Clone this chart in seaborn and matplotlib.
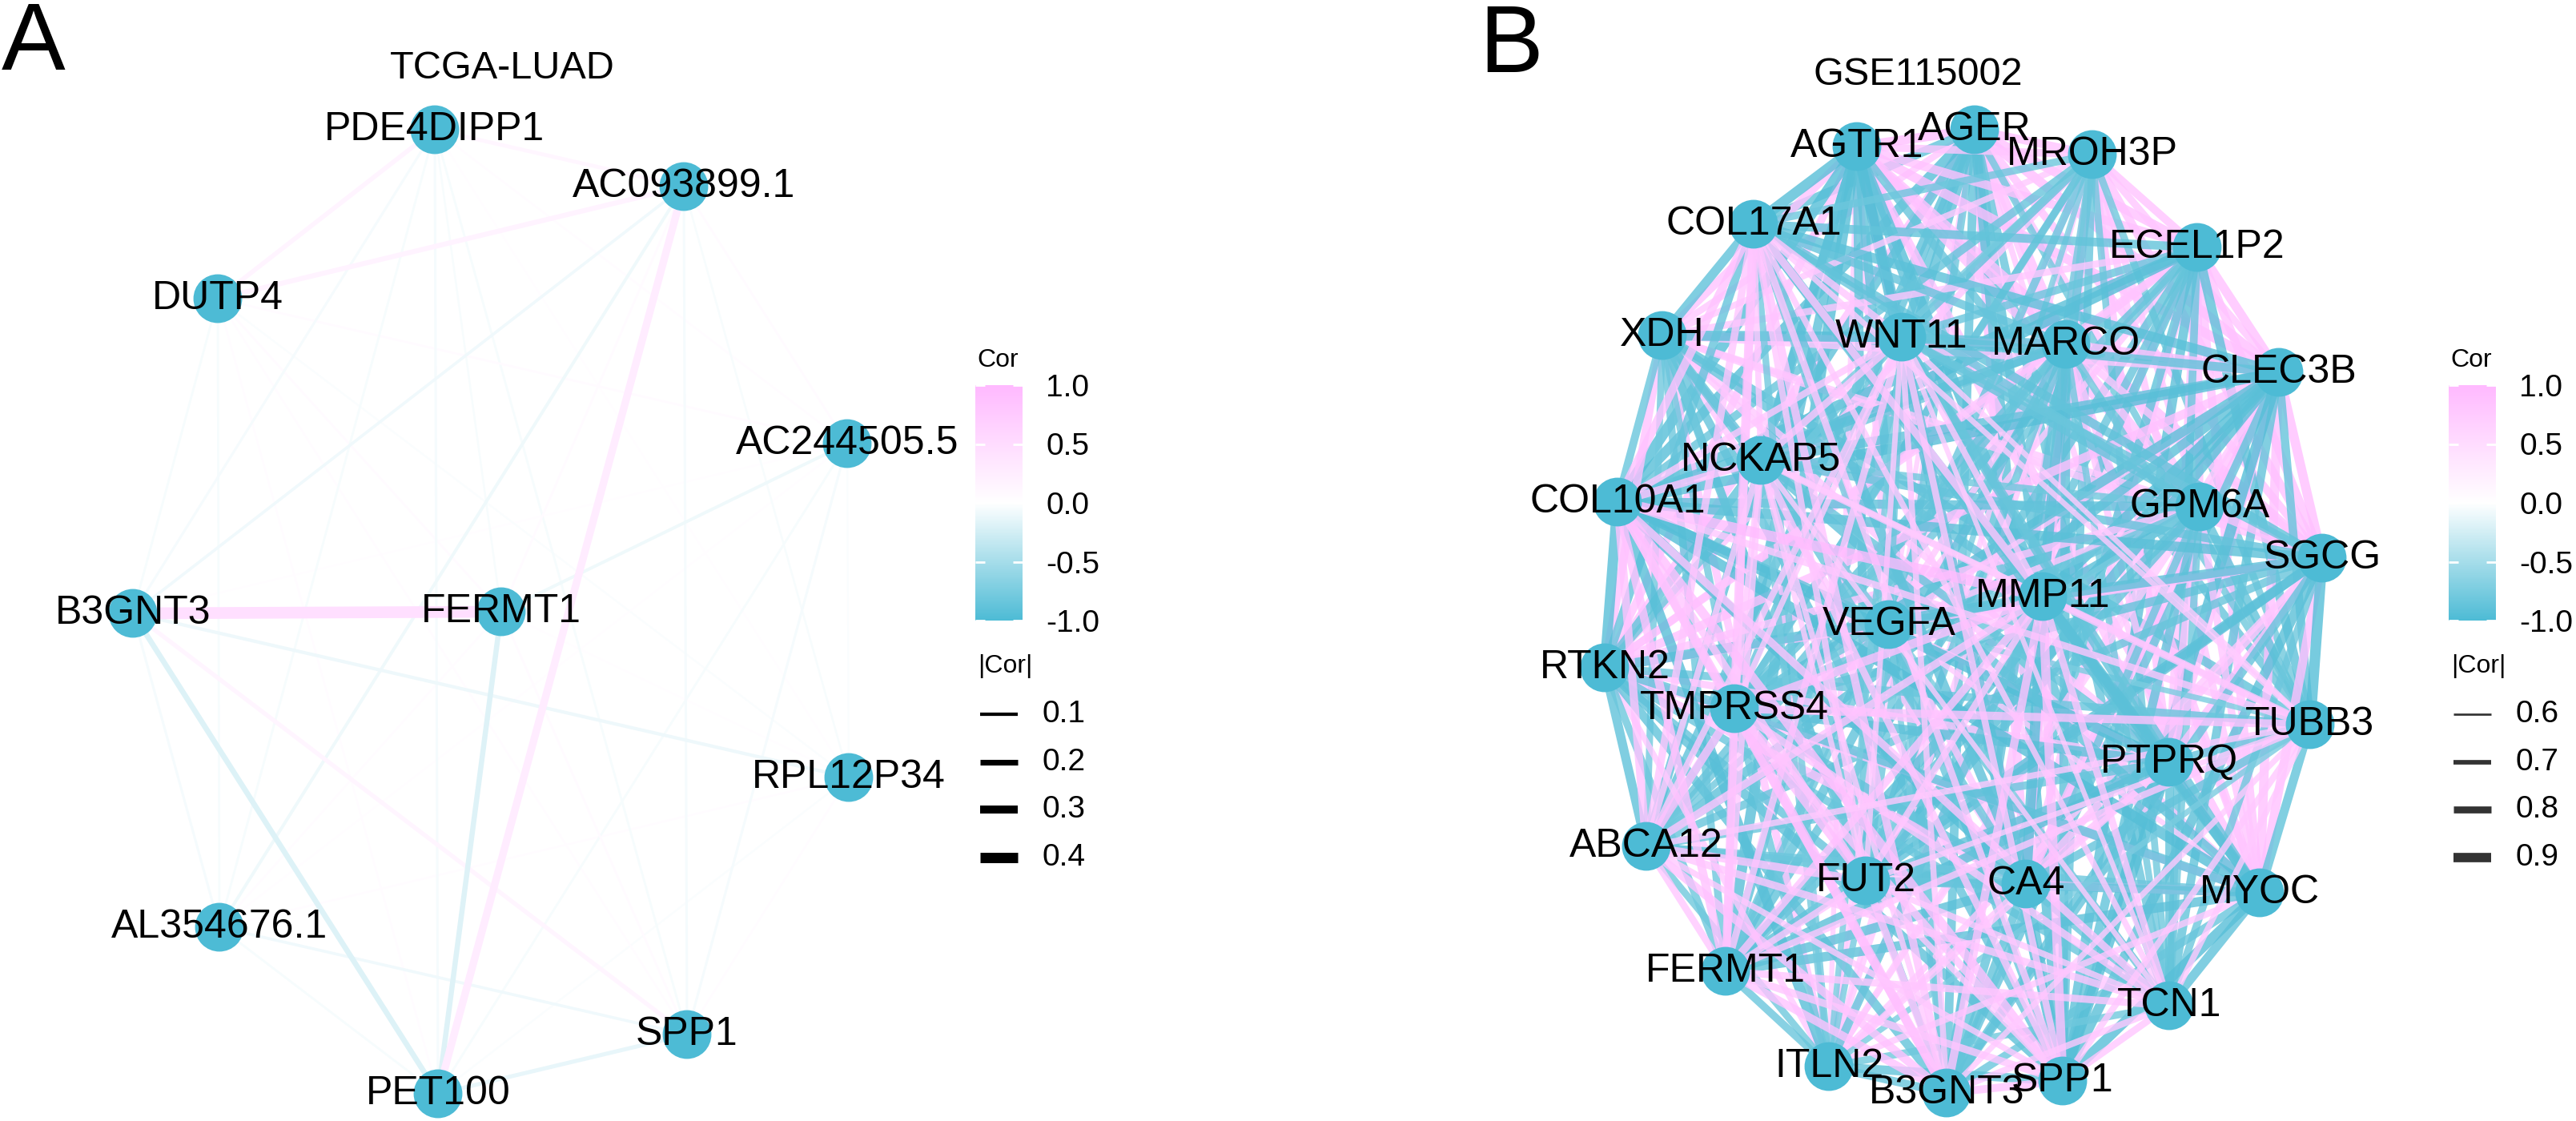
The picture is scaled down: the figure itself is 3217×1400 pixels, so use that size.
import numpy as np
import pandas as pd
import matplotlib
matplotlib.use('Agg')
import matplotlib.pyplot as plt
import seaborn as sns
from matplotlib.collections import LineCollection
from matplotlib.colors import LinearSegmentedColormap, Normalize
from matplotlib.cm import ScalarMappable

sns.set_theme(style='white')
plt.rcParams['font.family'] = ['Liberation Sans', 'DejaVu Sans']
plt.rcParams['text.color'] = 'black'
plt.rcParams['ytick.color'] = 'black'
plt.rcParams['ytick.labelcolor'] = 'black'

#------------- A: TCGA-LUAD network -----------------------
nodes_a = ['PDE4DIPP1', 'AC093899.1', 'AC244505.5', 'RPL12P34', 'SPP1',
           'PET100', 'AL354676.1', 'B3GNT3', 'DUTP4', 'FERMT1']
x_a = [543, 854, 1058, 1060, 858, 547, 274, 166, 272, 626]
y_a = [162, 233, 554, 971, 1292, 1366, 1158, 766, 373, 764]

edges_a = [
    ('PDE4DIPP1', 'AC093899.1', 0.12), ('PDE4DIPP1', 'AC244505.5', 0.04),
    ('PDE4DIPP1', 'RPL12P34', 0.03), ('PDE4DIPP1', 'SPP1', -0.05),
    ('PDE4DIPP1', 'PET100', -0.06), ('PDE4DIPP1', 'AL354676.1', -0.05),
    ('PDE4DIPP1', 'B3GNT3', -0.06), ('PDE4DIPP1', 'DUTP4', 0.15),
    ('PDE4DIPP1', 'FERMT1', -0.04),
    ('AC093899.1', 'AC244505.5', 0.05), ('AC093899.1', 'RPL12P34', -0.04),
    ('AC093899.1', 'SPP1', -0.06), ('AC093899.1', 'PET100', 0.28),
    ('AC093899.1', 'AL354676.1', -0.09), ('AC093899.1', 'B3GNT3', -0.08),
    ('AC093899.1', 'DUTP4', 0.17), ('AC093899.1', 'FERMT1', 0.05),
    ('AC244505.5', 'RPL12P34', -0.03), ('AC244505.5', 'SPP1', -0.06),
    ('AC244505.5', 'PET100', -0.05), ('AC244505.5', 'AL354676.1', 0.03),
    ('AC244505.5', 'B3GNT3', 0.03), ('AC244505.5', 'DUTP4', 0.05),
    ('AC244505.5', 'FERMT1', -0.09),
    ('RPL12P34', 'SPP1', 0.04), ('RPL12P34', 'PET100', -0.03),
    ('RPL12P34', 'AL354676.1', 0.04), ('RPL12P34', 'B3GNT3', -0.10),
    ('RPL12P34', 'DUTP4', -0.03), ('RPL12P34', 'FERMT1', 0.03),
    ('SPP1', 'PET100', -0.13), ('SPP1', 'AL354676.1', -0.08),
    ('SPP1', 'B3GNT3', 0.14), ('SPP1', 'DUTP4', 0.04), ('SPP1', 'FERMT1', 0.05),
    ('PET100', 'AL354676.1', -0.05), ('PET100', 'B3GNT3', -0.19),
    ('PET100', 'DUTP4', 0.04), ('PET100', 'FERMT1', -0.18),
    ('AL354676.1', 'B3GNT3', -0.06), ('AL354676.1', 'DUTP4', -0.05),
    ('AL354676.1', 'FERMT1', 0.04),
    ('B3GNT3', 'DUTP4', -0.05), ('B3GNT3', 'FERMT1', 0.46),
    ('DUTP4', 'FERMT1', 0.05),
]
size_breaks_a = [0.1, 0.2, 0.3, 0.4]

#------------- B: GSE115002 network -----------------------
nodes_b = ['AGER', 'AGTR1', 'MROH3P', 'ECEL1P2', 'XDH', 'MARCO', 'CLEC3B',
           'GPM6A', 'SGCG', 'VEGFA', 'RTKN2', 'PTPRQ', 'CA4', 'MYOC', 'ITLN2',
           'COL17A1', 'WNT11', 'NCKAP5', 'COL10A1', 'MMP11', 'TMPRSS4', 'TUBB3',
           'ABCA12', 'FUT2', 'FERMT1', 'TCN1', 'B3GNT3', 'SPP1']
x_b = [2466, 2319, 2613, 2744, 2076, 2580, 2846, 2747, 2900, 2359, 2004, 2709,
       2530, 2822, 2284, 2190, 2375, 2199, 2020, 2551, 2166, 2885, 2056, 2330,
       2155, 2709, 2431, 2576]
y_b = [162, 183, 193, 309, 419, 430, 465, 633, 697, 780, 834, 952, 1104, 1115,
       1332, 280, 421, 575, 627, 745, 885, 905, 1057, 1100, 1213, 1256, 1365, 1350]

# upper triangle of the correlation matrix (x100), row i holds pairs (i, j>i)
cor_b_rows = [
    [90, 85, 88, 79, 89, 91, 82, 84, 72, 86, 76, 88, 80, 70,
     -88, -84, -90, -93, -91, -86, -80, -89, -82, -90, -85, -87, -92],
    [83, 87, 85, 88, 91, 86, 89, 78, 84, 80, 92, 86, 72,
     -94, -92, -88, -95, -93, -90, -85, -91, -87, -94, -89, -88, -95],
    [84, 77, 83, 81, 80, 86, 73, 79, 85, 76, 82, 74,
     -82, -86, -76, -85, -87, -79, -81, -83, -75, -84, -80, -78, -84],
    [80, 85, 89, 84, 87, 76, 83, 82, 81, 86, 77,
     -87, -84, -96, -92, -88, -86, -90, -82, -85, -87, -83, -88, -90],
    [85, 79, 78, 82, 74, 86, 78, 77, 80, 83,
     -89, -93, -86, -84, -86, -81, -88, -79, -87, -82, -85, -80, -86],
    [89, 83, 81, 77, 84, 80, 90, 85, 76,
     -86, -88, -82, -91, -93, -87, -80, -85, -83, -89, -79, -86, -90],
    [87, 90, 79, 88, 85, 91, 89, 78,
     -91, -88, -89, -93, -96, -92, -86, -90, -94, -92, -87, -86, -95],
    [86, 76, 83, 84, 85, 82, 74,
     -84, -86, -80, -89, -92, -82, -87, -76, -86, -88, -81, -83, -88],
    [75, 85, 86, 83, 88, 77,
     -88, -83, -86, -92, -90, -87, -95, -85, -89, -91, -82, -86, -92],
    [77, 74, 80, 73, 72,
     -78, -82, -76, -88, -85, -80, -74, -79, -77, -81, -75, -76, -83],
    [81, 87, 83, 76,
     -86, -81, -87, -94, -91, -88, -84, -89, -86, -82, -84, -88, -90],
    [85, 80, 77,
     -89, -86, -85, -96, -92, -90, -86, -84, -89, -92, -87, -88, -94],
    [89, 75,
     -90, -86, -83, -93, -94, -88, -86, -88, -85, -91, -84, -87, -92],
    [78,
     -87, -85, -89, -95, -92, -89, -88, -82, -86, -90, -89, -84, -93],
    [-79, -76, -78, -93, -86, -82, -75, -80, -77, -83, -81, -85, -88],
    [80, 76, 86, 83, 89, 74, 82, 78, 81, 76, 84, 80],
    [81, 79, 77, 75, 73, 78, 74, 80, 72, 76, 79],
    [83, 80, 76, 72, 77, 74, 78, 73, 75, 81],
    [95, 87, 80, 85, 82, 86, 83, 85, 90],
    [88, 82, 83, 79, 84, 81, 85, 89],
    [85, 86, 88, 85, 82, 90, 83],
    [77, 74, 79, 76, 75, 78],
    [84, 80, 82, 86, 76],
    [79, 77, 83, 75],
    [81, 85, 82],
    [78, 80],
    [84],
]
size_breaks_b = [0.6, 0.7, 0.8, 0.9]

edges_b = []
for i, row in enumerate(cor_b_rows):
    for k, v in enumerate(row):
        edges_b.append((nodes_b[i], nodes_b[i + 1 + k], v / 100))

#-------------------------------------------------------
W, H = 3217, 1400
PT = 72 / 200  # points per pixel

cmap = LinearSegmentedColormap.from_list('cor', ['#4DBBD5', 'white', '#FFB9FF'])
norm = Normalize(-1, 1)
node_col = '#4DBBD5'

fig = plt.figure(figsize=(W / 200, H / 200), dpi=200)
ax = fig.add_axes([0, 0, 1, 1])


def edge_px(v, ref):
    # |Cor| -> width in px, linear scale anchored on the first legend break
    v0, p0, slope = ref
    return np.clip(p0 + (np.asarray(v) - v0) * slope, 0.8, None)


def draw_network(nodes, xs, ys, edges, ref, alpha, sort_edges):
    pos = dict(zip(nodes, zip(xs, ys)))
    df = pd.DataFrame(edges, columns=['a', 'b', 'cor'])
    df['abs'] = df['cor'].abs()
    if sort_edges:
        df = df.sort_values('abs')
    segs = [[pos[a], pos[b]] for a, b in zip(df['a'], df['b'])]
    lc = LineCollection(segs, colors=cmap(norm(df['cor'].values)),
                        linewidths=edge_px(df['abs'], ref) * PT,
                        alpha=alpha, capstyle='butt', zorder=1)
    ax.add_collection(lc)
    nd = pd.DataFrame({'name': nodes, 'x': xs, 'y': ys})
    sns.scatterplot(data=nd, x='x', y='y', s=480, color=node_col,
                    edgecolor='none', linewidth=0, ax=ax, zorder=3, legend=False)
    for n, x, y in zip(nodes, xs, ys):
        ax.text(x, y, n, ha='center', va='center', fontsize=18, zorder=4)


def draw_legend(x0, breaks, ref, key_color, key_alpha):
    cax = fig.add_axes([x0 / W, 1 - 775 / H, 59 / W, 294 / H])
    cb = fig.colorbar(ScalarMappable(norm=norm, cmap=cmap), cax=cax,
                      ticks=[-1, -0.5, 0, 0.5, 1])
    cb.outline.set_visible(False)
    cb.set_ticklabels(['-1.0', '-0.5', '0.0', '0.5', '1.0'])
    cax.tick_params(length=0, pad=10.5, labelsize=14, colors='black')
    tr = cax.get_yaxis_transform()
    for t in [-1, -0.5, 0, 0.5, 1]:
        cax.plot([0, 0.2], [t, t], color='white', lw=1.0, transform=tr,
                 solid_capstyle='butt', clip_on=False)
        cax.plot([0.8, 1], [t, t], color='white', lw=1.0, transform=tr,
                 solid_capstyle='butt', clip_on=False)
    ax.text(x0 + 2, 450, 'Cor', ha='left', va='center', fontsize=11.5)
    ax.text(x0 + 3, 832, '|Cor|', ha='left', va='center', fontsize=11.5)
    for k, b in enumerate(breaks):
        yk = 892 + k * 59.7
        ax.plot([x0 + 6, x0 + 53], [yk, yk], color=key_color, alpha=key_alpha,
                lw=float(edge_px(b, ref)) * PT, solid_capstyle='butt')
        ax.text(x0 + 84, yk, f'{b:.1f}', ha='left', va='center', fontsize=14)


ref_a = (0.1, 4.2, 29.0)
ref_b = (0.6, 2.7, 30.0)

draw_network(nodes_a, x_a, y_a, edges_a, ref_a, 1.0, True)
draw_network(nodes_b, x_b, y_b, edges_b, ref_b, 0.8, False)

ax.text(627, 86, 'TCGA-LUAD', ha='center', va='center', fontsize=17.5)
ax.text(2395, 94, 'GSE115002', ha='center', va='center', fontsize=17.5)
ax.text(2, 87, 'A', ha='left', va='baseline', fontsize=43)
ax.text(1847, 90, 'B', ha='left', va='baseline', fontsize=43)

draw_legend(1218, size_breaks_a, ref_a, 'black', 1.0)
draw_legend(3058, size_breaks_b, ref_b, 'black', 0.8)

ax.set_xlim(0, W)
ax.set_ylim(H, 0)
ax.axis('off')

fig.savefig('out.png', dpi=200)
plt.close()
